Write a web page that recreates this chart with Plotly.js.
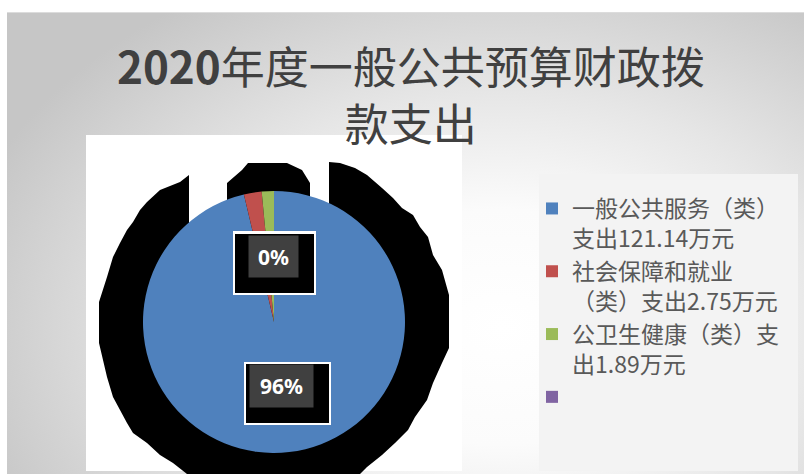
<!DOCTYPE html>
<html>
<head>
<meta charset="utf-8">
<script src="https://cdn.plot.ly/plotly-3.0.1.min.js"></script>
<style>
  html, body { margin:0; padding:0; background:#ffffff; }
  #bg { position:absolute; left:7px; top:12px; width:797px; height:462px;
        border-top:1px solid #dcdcdc;
        background: radial-gradient(ellipse 70% 85% at 62% 68%, #ffffff 0%, #fbfbfb 30%, #e6e6e6 60%, #c6c6c6 100%); }
  #chart { position:absolute; left:0; top:0; width:804px; height:474px; }
</style>
</head>
<body>
<div id="bg"></div>
<div id="chart"></div>
<script>
// ---- data ----
const categories = [
  '一般公共服务（类）<br>支出121.14万元',
  '社会保障和就业<br>（类）支出2.75万元',
  '公卫生健康（类）支<br>出1.89万元',
  ' '
];
const values = [121.14, 2.75, 1.89, 0];
const sliceColors = ['#4F81BD', '#C0504D', '#9BBB59', '#8064A2'];
const labelTexts = ['96%', '0%'];
const titleText = '<b>2020</b>年度一般公共预算财政拨<br>款支出';

// ---- helpers: pixel -> paper ----
const W = 804, H = 474;
const X = p => p / W;
const Y = p => 1 - p / H;

// decorative shadow outline (pixel coords), drawn behind the pie
const shadowOutline = [
  [189,240],[189,175],[180,182],[160,190],[147,202],[140,210],[133,222],[127,230],[120,243],
  [113,257],[107,277],[99,302],[99,343],[107,377],[113,397],[120,410],[127,423],[133,433],
  [147,443],[160,455],[173,463],[187,474],[187,480],[360,480],[360,474],[367,467],[382,455],
  [395,443],[408,430],[415,417],[427,400],[433,383],[442,363],[449,348],[449,295],[442,270],
  [433,255],[428,237],[420,227],[413,215],[402,208],[393,198],[382,188],[367,175],[355,168],
  [340,163],[329,162],[329,240],[310,240],[310,183],[302,170],[287,163],[248,163],[242,170],
  [227,183],[227,240]
];
const shadowPath = shadowOutline.map((p, i) => (i ? 'L' : 'M') + X(p[0]) + ',' + Y(p[1])).join('') + 'Z';

function rectPx(x0, y0, x1, y1, color, layer) {
  return { type:'rect', xref:'paper', yref:'paper', x0:X(x0), x1:X(x1), y0:Y(y1), y1:Y(y0),
           fillcolor:color, line:{width:0}, layer:layer };
}

const shapes = [
  rectPx(86, 135, 462, 471, '#ffffff', 'below'),
  { type:'path', xref:'paper', yref:'paper', path:shadowPath, fillcolor:'#000000', line:{width:0}, layer:'below' },
  rectPx(539, 174, 798, 471, '#f3f3f3', 'below'),
  rectPx(244, 362, 331, 425, '#ffffff', 'above'),
  rectPx(246, 364, 329, 423, '#000000', 'above'),
  rectPx(233, 231, 316, 295, '#ffffff', 'above'),
  rectPx(235, 234, 314, 293, '#000000', 'above')
];

const labelBoxes = [
  { cx:281.5, cy:386, w:63, h:42 },
  { cx:273.5, cy:256.5, w:49, h:41 }
];
const annotations = labelTexts.map((t, i) => ({
  text:'<b>' + t + '</b>', xref:'paper', yref:'paper',
  x:X(labelBoxes[i].cx), y:Y(labelBoxes[i].cy), xanchor:'center', yanchor:'middle',
  width:labelBoxes[i].w, height:labelBoxes[i].h, bgcolor:'#404040', borderpad:0,
  showarrow:false, font:{family:'Noto Sans, DejaVu Sans', size:21, color:'#ffffff'}
}));

const trace = {
  type:'pie',
  labels:categories,
  values:values,
  sort:false,
  direction:'clockwise',
  rotation:0,
  textinfo:'none',
  hoverinfo:'label+value+percent',
  marker:{ colors:sliceColors, line:{width:0} },
  domain:{ x:[X(143), X(405)], y:[Y(453), Y(191)] },
  showlegend:true
};

const layout = {
  width:W, height:H,
  margin:{l:0, r:0, t:0, b:0},
  paper_bgcolor:'rgba(0,0,0,0)',
  plot_bgcolor:'rgba(0,0,0,0)',
  title:{ text:titleText, x:0.511, xanchor:'center', xref:'paper',
          y:0.823, yanchor:'top', yref:'container',
          font:{family:'Noto Sans CJK SC, Noto Sans', size:44, color:'#404040'} },
  legend:{ x:X(532), y:Y(187), xanchor:'left', yanchor:'top', bgcolor:'rgba(0,0,0,0)',
           font:{family:'Noto Sans CJK SC, Noto Sans', size:23, color:'#595959'},
           itemwidth:30, traceorder:'normal', valign:'top' },
  shapes:shapes,
  annotations:annotations
};

Plotly.newPlot('chart', [trace], layout, {displayModeBar:false, staticPlot:true});
</script>
</body>
</html>
